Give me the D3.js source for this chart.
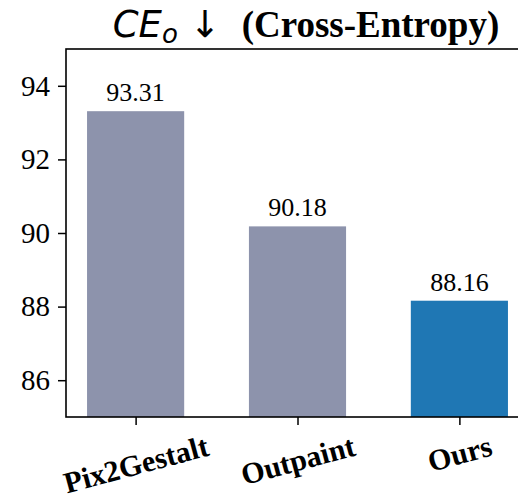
<!DOCTYPE html>
<html><head><meta charset="utf-8">
<script src="https://cdn.jsdelivr.net/npm/d3@7"></script>
<style>body{margin:0;background:#fff}</style>
</head><body>
<script>
const categories = ["Pix2Gestalt", "Outpaint", "Ours"];
const values = [93.31, 90.18, 88.16];
const barColors = ["#8d93ac", "#8d93ac", "#1f77b4"];
const yTicks = [86, 88, 90, 92, 94];

(function(){
const W = 518, H = 496;
const SERIF = '"Liberation Serif"';
const SANS = '"DejaVu Sans"';
const svg = d3.select("body").append("svg").attr("width", W).attr("height", H);
const mL = 66, mR = 529, mT = 49, mB = 417;

const x = d3.scaleLinear().domain([-0.43, 2.43]).range([mL, mR]);
const y = d3.scaleLinear().domain([85, 95]).range([mB, mT]);
const bw = x(0.6) - x(0);

svg.selectAll("rect.bar").data(values).enter().append("rect")
  .attr("x", (d,i) => x(i) - bw/2).attr("width", bw)
  .attr("y", d => y(d)).attr("height", d => mB - y(d))
  .attr("fill", (d,i) => barColors[i]);

svg.selectAll("text.val").data(values).enter().append("text")
  .attr("x", (d,i) => x(i)).attr("y", d => y(d) - 10)
  .attr("text-anchor", "middle")
  .style("font-family", SERIF).style("font-size", "26px")
  .text(d => d.toFixed(2));

const yAxis = d3.axisLeft(y).tickValues(yTicks).tickSize(8).tickPadding(8).tickFormat(d3.format("d"));
const gy = svg.append("g").attr("transform", `translate(${mL},0)`).call(yAxis);
gy.select(".domain").remove();
gy.selectAll(".tick line").attr("stroke", "#000").attr("stroke-width", 1.5);
gy.selectAll(".tick text").style("font-family", SERIF).style("font-size", "29px").attr("fill", "#000");

const xAxis = d3.axisBottom(x).tickValues([0,1,2]).tickSize(8).tickFormat(i => categories[i]);
const gx = svg.append("g").attr("transform", `translate(0,${mB})`).call(xAxis);
gx.select(".domain").remove();
gx.selectAll(".tick line").attr("stroke", "#000").attr("stroke-width", 1.5);
const fs = 30, ang = 15 * Math.PI / 180;
gx.selectAll(".tick text")
  .style("font-family", SERIF).style("font-size", fs + "px").style("font-weight", "bold").attr("fill", "#000")
  .attr("text-anchor", "middle").attr("y", 0).attr("dy", "0.33em")
  .each(function(){
    const w = this.getComputedTextLength();
    const h = fs * 1.0;
    const bh = w * Math.sin(ang) + h * Math.cos(ang);
    const cy = 8 + 6 + bh / 2;
    d3.select(this).attr("transform", `translate(0,${cy}) rotate(-15)`);
  });

svg.append("rect").attr("x", mL).attr("y", mT).attr("width", mR-mL).attr("height", mB-mT)
  .attr("fill", "none").attr("stroke", "#000").attr("stroke-width", 1.6);

const t = svg.append("text").attr("x", 306).attr("y", 37).attr("text-anchor", "middle").style("font-size", "37px");
t.append("tspan").style("font-family", SANS).style("font-style", "italic").text("CE");
t.append("tspan").style("font-family", SANS).style("font-style", "italic").style("font-size", "26px").attr("dy", 6).text("o");
t.append("tspan").style("font-family", SANS).attr("dy", -6).text(" \u2193 ");
t.append("tspan").style("font-family", SERIF).style("font-weight", "bold").text("\u00a0(Cross-Entropy)");
})();
</script>
</body></html>
